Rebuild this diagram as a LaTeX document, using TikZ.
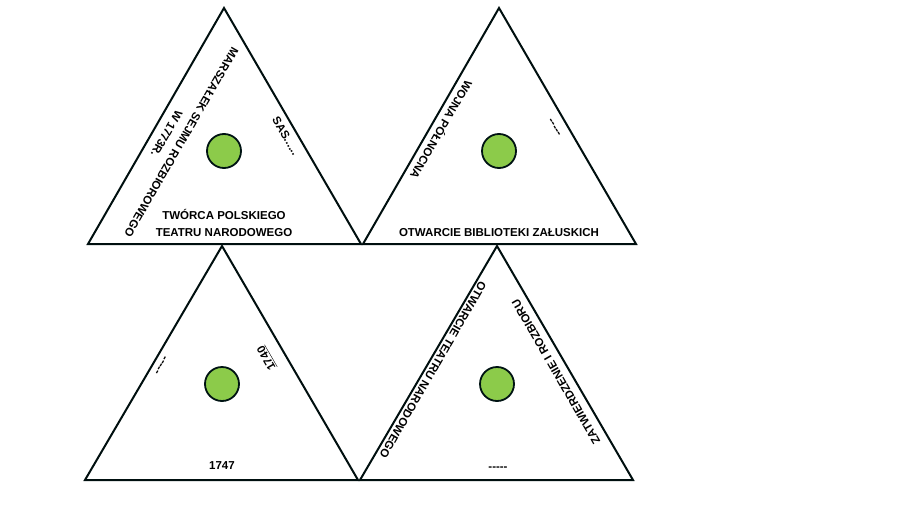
\documentclass[tikz,border=0pt]{standalone}
\usepackage{fontspec}
\setmainfont{Liberation Sans}
\newcommand{\dashz}{{-}{-}{-}{-}{-}}
\begin{document}
\begin{tikzpicture}[x=1pt,y=-1pt,
  tri/.style={draw=black!80!teal!60!black,line width=2pt,line join=miter},
  dot/.style={circle,draw=black!85!teal,line width=1.8pt,minimum size=34pt,inner sep=0pt},
  lbl/.style={font=\fontsize{11.5}{17}\selectfont\bfseries,align=center,inner sep=0pt}]
\useasboundingbox (0,0) rectangle (900,506);
\definecolor{dotgreen}{HTML}{8CCB4A}
\tikzset{dot/.append style={fill=dotgreen}}
% triangle 1
\draw[tri] (224,8) coordinate (a1) -- (361,244) coordinate (c1) -- (88,244) coordinate (b1) -- cycle;
\node[dot] (d1) at (224,151) {};
\node[lbl,rotate=-120] (t1a) at (174,138) {MARSZAŁEK SEJMU ROZBIOROWEGO\\W 1773R.};
\node[lbl,rotate=-60] (t1b) at (286,136) {SAS......};
\node[lbl] (t1c) at (224,223) {TWÓRCA POLSKIEGO\\TEATRU NARODOWEGO};
% triangle 2
\draw[tri] (499,8) coordinate (a2) -- (636,244) coordinate (c2) -- (363,244) coordinate (b2) -- cycle;
\node[dot] (d2) at (499,151) {};
\node[lbl,rotate=-120] (t2a) at (442,130) {WOJNA PÓŁNOCNA};
\node[lbl,rotate=-60] (t2b) at (554,128) {\dashz};
\node[lbl] (t2c) at (499,233) {OTWARCIE BIBLIOTEKI ZAŁUSKICH};
% triangle 3
\draw[tri] (222,246) coordinate (a3) -- (358,480) coordinate (c3) -- (85,480) coordinate (b3) -- cycle;
\node[dot] (d3) at (222,384) {};
\node[lbl,rotate=60] (t3a) at (162,366) {\dashz};
\node[lbl,rotate=120] (t3b) at (267,358) {\underline{1740}};
\node[lbl] (t3c) at (222,466) {1747};
% triangle 4
\draw[tri] (497,246) coordinate (a4) -- (633,480) coordinate (c4) -- (360,480) coordinate (b4) -- cycle;
\node[dot] (d4) at (497,384) {};
\node[lbl,rotate=-120] (t4a) at (433,370) {OTWARCIE TEATRU NARODOWEGO};
\node[lbl,rotate=120] (t4b) at (556,372) {ZATWIERDZENIE I ROZBIORU};
\node[lbl] (t4c) at (498,469) {\dashz};
\end{tikzpicture}
\end{document}
